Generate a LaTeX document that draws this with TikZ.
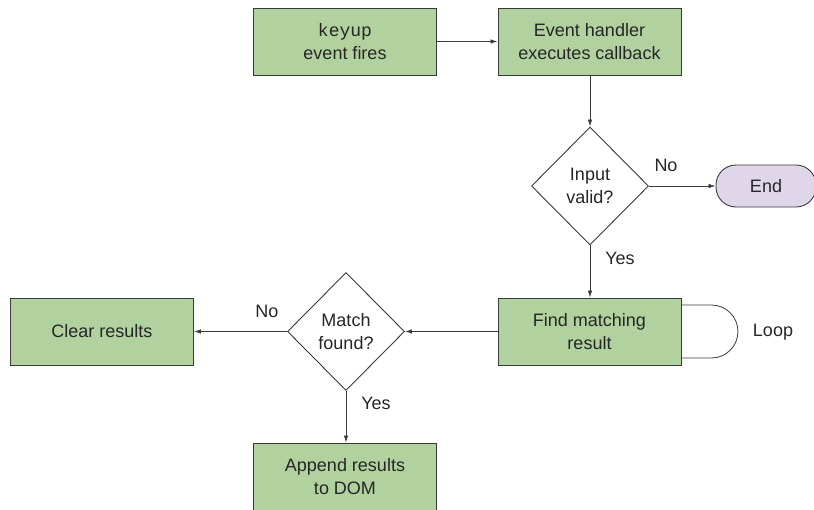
\documentclass[tikz,border=0pt]{standalone}
\usepackage{fontspec}
\setmainfont{Liberation Sans}
\setmonofont{Liberation Mono}
\usetikzlibrary{shapes.geometric,arrows.meta,calc}
\definecolor{boxgreen}{HTML}{B1D29F}
\definecolor{endlav}{HTML}{E0D6EA}
\definecolor{edge}{HTML}{3A3A3A}
\begin{document}
\begin{tikzpicture}[x=1pt,y=-1pt,
  every node/.style={font=\fontsize{18}{23}\selectfont, text=black!85, align=center},
  procbox/.style={draw=edge, line width=0.9pt, fill=boxgreen, minimum width=183pt, minimum height=67pt, inner sep=0pt},
  decision/.style={draw=edge, line width=0.9pt, fill=white, diamond, minimum width=117pt, minimum height=118pt, inner sep=0pt},
  terminal/.style={draw=edge, line width=0.9pt, fill=endlav, rounded corners=20pt, minimum width=100pt, minimum height=42pt, inner sep=0pt},
  conn/.style={draw=edge, line width=0.8pt, -{Latex[length=7pt,width=4.5pt]}},
  lbl/.style={font=\fontsize{18}{23}\selectfont}]
\useasboundingbox (0,0) rectangle (814,509);
\node[procbox] (keyup) at (345,41.5) {\texttt{keyup}\\event fires};
\node[procbox] (handler) at (589.5,41.5) {Event handler\\executes callback};
\node[decision] (valid) at (590,186) {Input\\valid?};
\node[terminal] (end) at (766,186) {End};
\node[procbox] (find) at (589.5,331.5) {Find matching\\result};
\node[decision] (match) at (346,331.5) {Match\\found?};
\node[procbox] (clear) at (102,331.5) {Clear results};
\node[procbox] (append) at (345,476.5) {Append results\\to DOM};
\draw[conn] (keyup) -- (handler);
\draw[conn] (handler.south -| valid.north) -- (valid.north);
\draw[conn] (valid.east) -- (end.west);
\draw[conn] (valid.south) -- (find.north -| valid.south);
\draw[conn] (find.west) -- (match.east);
\draw[conn] (match.west) -- (clear.east);
\draw[conn] (match.south) -- (append.north -| match.south);
\coordinate (loopa) at ($(find.east)+(0,-26.5)$);
\coordinate (loopb) at ($(find.east)+(0,26.5)$);
\draw[draw=edge, line width=0.8pt] (loopa) -- ++(30,0) arc[start angle=-90, end angle=90, radius=26.5] -- (loopb);
\node[lbl] (no1) at (666,165) {No};
\node[lbl] (yes1) at (620,258) {Yes};
\node[lbl] (loop) at (773,332) {Loop};
\node[lbl] (no2) at (267,311) {No};
\node[lbl] (yes2) at (376,403) {Yes};
\end{tikzpicture}
\end{document}
